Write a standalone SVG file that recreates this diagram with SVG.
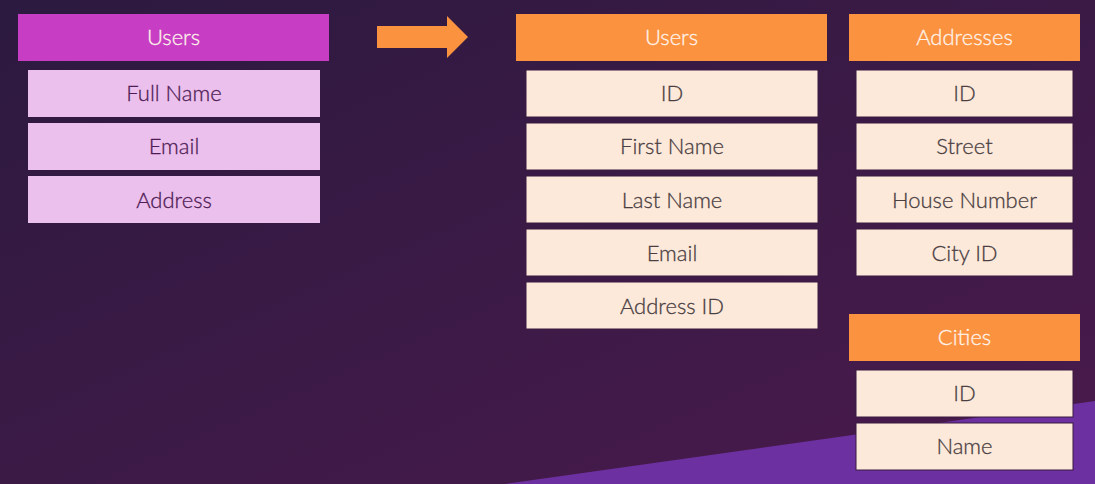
<svg xmlns="http://www.w3.org/2000/svg" width="1095" height="484" viewBox="0 0 1095 484">
<defs>
<linearGradient id="bg" x1="0" y1="0" x2="1" y2="1">
<stop offset="0" stop-color="#2c1a40"/>
<stop offset="1" stop-color="#4a1a4c"/>
</linearGradient>
<style>
text{font-family:Lato,"Noto Sans","Liberation Sans",sans-serif;font-size:22px;font-weight:300;text-anchor:middle;stroke-width:0.3}
.hp{fill:#c73ec4}
.ip{fill:#ecc0ec}
.tp{fill:#4e1c56;stroke:#4e1c56}
.ho{fill:#fb923f}
.io{fill:#fde9da;stroke:#3a1a40;stroke-width:1}
.th{fill:#fff2ea;stroke:#fff2ea}
.to{fill:#4a4042;stroke:#4a4042}
</style>
</defs>
<rect width="1095" height="484" fill="url(#bg)"/>
<polygon points="505,484 1095,401 1095,484" fill="#6d30a0"/>
<g id="old-users">
<rect class="hp" x="18" y="14" width="311" height="47"/>
<text class="th" x="173.5" y="45">Users</text>
<rect class="ip" x="28" y="70" width="292" height="47"/>
<text class="tp" x="174" y="101">Full Name</text>
<rect class="ip" x="28" y="123" width="292" height="47"/>
<text class="tp" x="174" y="154">Email</text>
<rect class="ip" x="28" y="176" width="292" height="47"/>
<text class="tp" x="174" y="208">Address</text>
</g>
<g id="connectors">
<polygon points="377,26 447,26 447,16 468,37 447,58 447,48 377,48" fill="#fb923f"/>
</g>
<g id="users">
<rect class="ho" x="516" y="14" width="311" height="47"/>
<text class="th" x="671.5" y="45">Users</text>
<rect class="io" x="526" y="70" width="292" height="47"/>
<text class="to" x="672" y="101">ID</text>
<rect class="io" x="526" y="123" width="292" height="47"/>
<text class="to" x="672" y="154">First Name</text>
<rect class="io" x="526" y="176" width="292" height="47"/>
<text class="to" x="672" y="208">Last Name</text>
<rect class="io" x="526" y="229" width="292" height="47"/>
<text class="to" x="672" y="261">Email</text>
<rect class="io" x="526" y="282" width="292" height="47"/>
<text class="to" x="672" y="314">Address ID</text>
</g>
<g id="addresses">
<rect class="ho" x="849" y="14" width="231" height="47"/>
<text class="th" x="964.5" y="45">Addresses</text>
<rect class="io" x="856" y="70" width="217" height="47"/>
<text class="to" x="964.5" y="101">ID</text>
<rect class="io" x="856" y="123" width="217" height="47"/>
<text class="to" x="964.5" y="154">Street</text>
<rect class="io" x="856" y="176" width="217" height="47"/>
<text class="to" x="964.5" y="208">House Number</text>
<rect class="io" x="856" y="229" width="217" height="47"/>
<text class="to" x="964.5" y="261">City ID</text>
</g>
<g id="cities">
<rect class="ho" x="849" y="314" width="231" height="47"/>
<text class="th" x="964.5" y="345">Cities</text>
<rect class="io" x="856" y="370" width="217" height="47"/>
<text class="to" x="964.5" y="401">ID</text>
<rect class="io" x="856" y="423" width="217" height="47"/>
<text class="to" x="964.5" y="454">Name</text>
</g>
</svg>
